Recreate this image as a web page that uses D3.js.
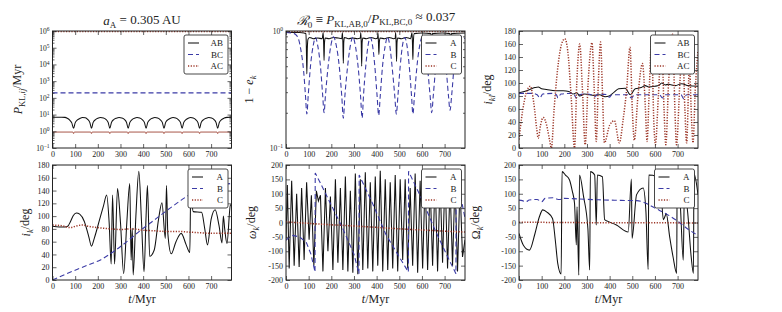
<!DOCTYPE html>
<html><head><meta charset="utf-8">
<script src="https://cdn.jsdelivr.net/npm/d3@7"></script>
<style>
body{margin:0;background:#fff}
svg{display:block}
text{font-family:"Liberation Serif","DejaVu Serif",serif;fill:#222}
</style>
</head><body>
<svg id="c" width="782" height="312"></svg>
<script>
// ---------- shared axes values ----------
const tDomain = [0, 790];
const xTicks = [0, 100, 200, 300, 400, 500, 600, 700];
const degTicks = [0, 20, 40, 60, 80, 100, 120, 140, 160, 180];
const angTicks = [-200, -150, -100, -50, 0, 50, 100, 150, 200];
const logTicksP = [1e-1, 1e0, 1e1, 1e2, 1e3, 1e4, 1e5, 1e6];
const logTicksE = [1e-1, 1e0];

// ---------- panel 1: P_KL,ij / Myr ----------
const pklAB = [[0,7],[40,7],[55,6.8],[65,6],[75,4.8],[85,3.2],[93,1.5],
[100,3.2],[110,4.8],[122,6],[132,6.6],[145,6.4],[155,5.2],[165,3.3],[172,1.5],
[179,3.3],[190,5],[200,6],[212,6.6],[225,6.3],[237,5],[246,3.3],[253,1.5],
[260,3.3],[270,5],[282,6.1],[294,6.6],[306,6.2],[318,5],[327,3.3],[334,1.5],
[341,3.3],[351,5],[362,6.1],[373,6.6],[385,6.2],[396,5],[406,3.3],[413,1.5],
[420,3.3],[430,5],[441,6.1],[452,6.6],[464,6.2],[475,5],[485,3.3],[492,1.5],
[499,3.3],[510,5],[521,6.1],[532,6.6],[544,6.2],[555,5],[565,3.3],[572,1.5],
[579,3.3],[589,5],[599,6.1],[610,6.6],[621,6.2],[632,5],[642,3.3],[649,1.5],
[656,3.3],[667,5],[679,6.1],[690,6.6],[702,6.2],[713,5],[722,3.3],[729,1.5],
[736,3.3],[746,5],[758,6.2],[770,6.8],[790,7]];
const pklBC = [[0,200],[790,200]];
const pklACtop = [[0,9.2e5],[790,9.2e5]];
const pklAClow = [[0,0.9],[90,0.9],[93,0.72],[96,0.9],[169,0.9],[172,0.72],[175,0.9],
[250,0.9],[253,0.72],[256,0.9],[331,0.9],[334,0.72],[337,0.9],[410,0.9],[413,0.72],[416,0.9],
[489,0.9],[492,0.72],[495,0.9],[569,0.9],[572,0.72],[575,0.9],[646,0.9],[649,0.72],[652,0.9],
[726,0.9],[729,0.72],[732,0.9],[790,0.9]];

// ---------- panel 2: 1 - e_k ----------
const eA = [[0,0.97],[60,0.97],[80,0.96],[88,0.95],[90,0.7],[92,0.43],[94,0.7],[97,0.85],[105,0.88],[120,0.86],[140,0.87],[160,0.86],
[164,0.97],[166,0.8],[168,0.56],[170,0.8],[173,0.87],[190,0.86],[210,0.88],[230,0.87],[246,0.86],
[249,0.97],[251,0.8],[253,0.53],[255,0.8],[258,0.88],[275,0.86],[295,0.87],[315,0.86],[328,0.87],
[330,0.97],[332,0.8],[334,0.5],[336,0.8],[339,0.87],[355,0.86],[375,0.88],[395,0.86],[404,0.87],
[406,0.96],[408,0.8],[410,0.63],[412,0.8],[415,0.87],[435,0.86],[455,0.88],[475,0.86],[482,0.87],
[484,0.97],[486,0.8],[488,0.55],[490,0.8],[493,0.87],[510,0.86],[530,0.88],[550,0.86],
[556,0.97],[558,0.8],[560,0.57],[562,0.8],[566,0.95],[600,0.96],[640,0.95],[643,0.7],[646,0.95],[690,0.96],[724,0.95],[727,0.75],[730,0.95],[790,0.96]];
const eB = [[0,0.97],[30,0.96],[50,0.9],[65,0.7],[78,0.45],[86,0.28],[92,0.195],[98,0.28],[108,0.5],[120,0.75],[130,0.88],
[140,0.75],[152,0.5],[162,0.28],[168,0.2],[174,0.28],[186,0.5],[198,0.75],[210,0.89],[222,0.75],[235,0.5],[246,0.28],
[253,0.18],[260,0.28],[272,0.5],[284,0.75],[295,0.89],[306,0.75],[318,0.5],[329,0.28],[336,0.18],[342,0.28],[352,0.5],
[362,0.75],[372,0.88],[382,0.75],[392,0.5],[402,0.28],[409,0.19],[416,0.28],[426,0.5],[438,0.75],[448,0.89],[458,0.75],
[468,0.5],[480,0.28],[487,0.195],[494,0.28],[504,0.5],[514,0.75],[524,0.88],[534,0.75],[544,0.5],[554,0.28],[560,0.195],
[567,0.28],[578,0.5],[590,0.75],[601,0.89],[612,0.75],[624,0.5],[636,0.28],[643,0.2],[650,0.28],[661,0.5],[672,0.75],
[683,0.89],[694,0.75],[706,0.5],[717,0.28],[724,0.21],[731,0.28],[742,0.5],[754,0.75],[766,0.88],[778,0.9],[790,0.86]];
const eC = [[0,0.99],[790,0.99]];

// ---------- panel 3: i_kl / deg ----------
const iklAB = [[0,85],[40,89],[70,93],[85,94],[100,91],[121,90],[160,88],[195,88],[220,87],[238,83],[255,85],[268,80],
[290,83],[311,82],[330,81],[355,82],[380,79],[398,80],[420,86],[440,91],[469,92],[491,82],[513,91],[540,93],[557,96],
[572,94],[600,95],[616,96],[630,100],[645,97],[659,98],[690,96],[718,99],[747,96],[790,95]];
const iklBC = [[0,84],[60,84],[80,82],[92,77],[105,83],[150,84],[165,82],[172,77],[185,83],[240,84],[253,77],[265,82],
[300,83],[320,82],[334,79],[350,83],[390,82],[399,78],[410,82],[480,82],[496,77],[510,82],[620,82],[633,77],[645,82],
[715,82],[727,76],[740,82],[790,82]];
const iklAC = [[0,13],[15,55],[35,88],[50,95],[65,70],[78,30],[85,15],[95,35],[107,47],[122,35],[135,12],[143,0],
[155,60],[170,120],[188,160],[202,168],[215,150],[230,80],[245,0],[255,100],[268,160],[280,90],[292,5],[305,100],
[322,162],[332,90],[341,10],[350,100],[360,163],[368,90],[377,8],[400,35],[421,42],[443,8],[460,45],[475,90],[490,155],
[500,60],[509,12],[525,80],[545,130],[558,60],[565,10],[575,90],[585,165],[595,40],[602,5],[615,80],[630,165],[640,60],
[648,5],[660,100],[678,175],[688,60],[695,5],[710,100],[722,160],[732,60],[740,8],[752,125],[762,40],[768,8],[778,90],[790,150]];

// ---------- panel 4: i_k / deg ----------
const ikA = [[0,84],[30,83],[55,83],[67,84],[80,92],[92,101],[105,105],[120,103],[140,92],[160,68],[172,53],[185,66],
[209,96],[225,116],[239,133],[250,90],[259,25],[265,133],[274,25],[287,143],[300,90],[314,10],[328,90],[341,151],
[347,31],[352,81],[356,8],[368,100],[381,170],[393,90],[404,13],[413,100],[419,148],[429,37],[449,47],[468,95],
[483,121],[498,65],[503,148],[509,73],[524,41],[545,60],[568,73],[590,55],[606,43],[610,136],[621,107],[658,106],
[672,80],[684,55],[700,95],[718,110],[735,85],[748,58],[754,100],[760,80],[770,57],[785,117],[790,118]];
const ikB = [[0,0],[50,8],[105,16],[160,24],[209,31],[255,41],[299,52],[345,65],[389,78],[435,90],[479,102],[525,114],
[568,125],[612,135],[658,143],[720,148],[790,151]];
const ikC = [[0,86],[40,85],[80,82],[100,84],[130,86],[160,84],[200,82],[260,80],[300,79],[350,80],[400,78],[450,77],
[500,76],[560,76],[600,75],[650,74],[700,73],[790,73]];

// ---------- panel 5: omega_k / deg ----------
const wA = [[0,-60],[6,130],[14,-160],[25,145],[36,-150],[47,100],[58,-155],[69,120],[80,-130],[91,140],[102,-60],
[112,95],[123,-150],[134,110],[143,75],[152,95],[163,-170],[174,120],[185,-100],[196,90],[207,-165],[218,150],
[229,-140],[240,120],[251,-165],[262,160],[273,-170],[284,110],[295,-175],[306,170],[317,-180],[328,150],[339,-165],
[350,175],[361,-160],[372,140],[383,-170],[394,160],[405,-150],[416,180],[427,-170],[438,150],[449,-165],[460,140],
[471,-160],[482,165],[493,-170],[504,150],[515,-130],[526,150],[537,-160],[548,120],[559,-150],[570,170],[581,-175],
[592,145],[603,-160],[614,150],[625,-165],[636,140],[647,-150],[658,160],[669,-170],[680,150],[691,-140],[702,170],
[713,-160],[724,130],[735,-150],[746,145],[757,-170],[768,130],[779,-120],[790,-60]];
const wB = [[0,-62],[15,-50],[30,-45],[60,-50],[90,-70],[110,-110],[128,-172],[129,172],[150,140],[200,60],[250,-20],
[300,-110],[322,-178],[323,165],[380,70],[440,-40],[500,-120],[540,-172],[541,178],[600,80],[660,-30],[720,-130],
[750,-178],[751,170],[790,15]];
const wC = [[0,2],[100,-3],[200,-8],[300,-12],[400,-17],[500,-22],[600,-26],[700,-30],[790,-33]];

// ---------- panel 6: Omega_k / deg ----------
const OA = [[0,-38],[20,-80],[46,-96],[70,-40],[90,20],[105,44],[125,35],[148,14],[160,-60],[171,-142],[186,-179],
[190,177],[205,165],[223,148],[235,110],[245,67],[253,-78],[256,55],[264,-183],[267,165],[285,90],[304,-21],[312,-165],
[315,177],[334,165],[341,-9],[346,165],[368,159],[378,10],[393,4],[430,-9],[482,-33],[496,151],[499,-55],[519,97],
[548,120],[560,40],[570,-163],[573,165],[607,160],[625,130],[637,10],[650,30],[665,-50],[680,-120],[696,-177],
[698,160],[712,60],[725,-131],[730,120],[745,30],[760,-120],[770,-177],[772,170],[790,97]];
const OB = [[0,78],[15,76],[30,72],[45,78],[80,80],[100,72],[115,84],[150,86],[165,82],[180,80],[200,84],[260,82],
[350,79],[450,77],[520,76],[560,67],[600,50],[650,30],[696,7],[740,-20],[790,-45]];
const OC = [[0,1],[200,0],[400,-1],[600,-1],[790,-2]];

// ---------- styles ----------
const ST = {
  solid: {stroke:"#111", w:1.05, dash:null},
  dash:  {stroke:"#3b3ba6", w:1.1, dash:"5,3"},
  dot:   {stroke:"#9c3526", w:1.5, dash:"1.2,1.5"},
  thin:  {stroke:"#a8574a", w:1.0, dash:null}
};
const FONT = '"Liberation Serif","DejaVu Serif",serif';

const svg = d3.select("#c");
const cols = [52.5, 286, 519];
const W = 179;
const rows = [{y0:31,h:117},{y0:165,h:115}];

// rich text: parts = [[str, flags]] flags: i=italic, s=subscript
function rich(t, parts, subSize){
  let shifted = false;
  parts.forEach(([s, f])=>{
    f = f||"";
    const sp = t.append("tspan").text(s);
    if(f.includes("i")) sp.attr("font-style","italic");
    const wantSub = f.includes("s");
    if(wantSub){ sp.attr("font-size", subSize); if(!shifted){ sp.attr("dy","0.3em"); shifted=true; } }
    else if(shifted){ sp.attr("dy","-0.3em"); shifted=false; }
  });
}

let clipId = 0;
function panel(p){
  const x0 = cols[p.col], y0 = rows[p.row].y0, h = rows[p.row].h;
  const x = d3.scaleLinear().domain(tDomain).range([x0, x0+W]);
  const y = (p.log ? d3.scaleLog() : d3.scaleLinear()).domain(p.yDomain).range([y0+h, y0]);
  const g = svg.append("g");
  const id = "clip"+(clipId++);
  svg.append("clipPath").attr("id", id).append("rect").attr("x",x0).attr("y",y0).attr("width",W).attr("height",h);
  const lg = g.append("g").attr("clip-path","url(#"+id+")");
  p.series.forEach(s=>{
    const st = ST[s.style];
    const line = d3.line().x(d=>x(d[0])).y(d=>y(d[1])).curve(s.curve||d3.curveMonotoneX);
    lg.append("path").attr("d", line(s.data)).attr("fill","none")
      .attr("stroke", st.stroke).attr("stroke-width", s.w||st.w)
      .attr("stroke-dasharray", st.dash);
  });
  const fs = "8px";
  const ax = g.append("g").attr("transform",`translate(0,${y0+h})`)
    .call(d3.axisBottom(x).tickValues(xTicks).tickSize(-4).tickPadding(3));
  ax.selectAll("text").attr("font-size",fs);
  g.append("g").attr("transform",`translate(0,${y0})`).call(d3.axisTop(x).tickValues(xTicks).tickSize(-4).tickFormat(""));
  const ay = g.append("g").attr("transform",`translate(${x0},0)`)
    .call(d3.axisLeft(y).tickValues(p.yTicks).tickSize(-4).tickPadding(3).tickFormat(p.log? ()=>"" : d=>d));
  ay.selectAll("text").attr("font-size",fs);
  g.append("g").attr("transform",`translate(${x0+W},0)`).call(d3.axisRight(y).tickValues(p.yTicks).tickSize(-4).tickFormat(""));
  if(p.log){
    ay.selectAll(".tick text").each(function(d){
      const e = Math.round(Math.log10(d));
      const t = d3.select(this).text("10").attr("font-size","7.5px");
      t.append("tspan").attr("dy","-0.5em").attr("font-size","5.5px").text(e<0? "\u2212"+(-e) : e);
    });
    const minor = [];
    for(let e=Math.round(Math.log10(p.yDomain[0])); e<Math.round(Math.log10(p.yDomain[1])); e++)
      for(let m=2;m<10;m++) minor.push(m*Math.pow(10,e));
    g.append("g").attr("transform",`translate(${x0},0)`).call(d3.axisLeft(y).tickValues(minor).tickSize(-2).tickFormat(""));
    g.append("g").attr("transform",`translate(${x0+W},0)`).call(d3.axisRight(y).tickValues(minor).tickSize(-2).tickFormat(""));
  }
  g.selectAll("g").attr("font-family",null);
  g.selectAll(".domain").remove();
  g.selectAll(".tick line").attr("stroke","#222").attr("stroke-width",0.7);
  g.selectAll(".tick text").attr("fill","#222").style("font-family",FONT);
  g.append("rect").attr("x",x0).attr("y",y0).attr("width",W).attr("height",h)
    .attr("fill","none").attr("stroke","#222").attr("stroke-width",1);
  // legend
  const lw = p.legW, lx = x0+W-lw-3.5, ly = y0+4;
  const L = g.append("g");
  L.append("rect").attr("x",lx).attr("y",ly).attr("width",lw).attr("height",39).attr("rx",2)
    .attr("fill","#fff").attr("stroke","#333").attr("stroke-width",0.9);
  p.series.filter(s=>s.label).forEach((s,i)=>{
    const st = ST[s.style], yy = ly+8+i*11.5;
    L.append("line").attr("x1",lx+4).attr("x2",lx+15).attr("y1",yy).attr("y2",yy)
      .attr("stroke",st.stroke).attr("stroke-width",st.w).attr("stroke-dasharray",st.dash);
    L.append("text").attr("x",lx+lw-5).attr("y",yy+3).attr("text-anchor","end").attr("font-size","9px").text(s.label);
  });
  const yl = svg.append("text").attr("transform",`translate(${p.ylx},${y0+h/2}) rotate(-90)`)
    .attr("text-anchor","middle").attr("font-size","12px");
  rich(yl, p.ylabel, "8.5px");
  if(p.row===1){
    const xl = svg.append("text").attr("x",x0+W/2).attr("y",303).attr("text-anchor","middle").attr("font-size","12px");
    rich(xl, [["t","i"],["/Myr"]], "8px");
  }
}

panel({col:0,row:0,log:true,yDomain:[0.1,1e6],yTicks:logTicksP,legW:44,ylx:22,
  series:[{data:pklAB,style:"solid",label:"AB"},{data:pklBC,style:"dash",label:"BC"},{data:pklACtop,style:"dot",label:"AC"},
          {data:pklAClow,style:"thin"}],
  ylabel:[["P","i"],["KL,","s"],["ij","si"],["/Myr"]]});
panel({col:1,row:0,log:true,yDomain:[0.1,1],yTicks:logTicksE,legW:40,ylx:253,
  series:[{data:eA,style:"solid",label:"A"},{data:eB,style:"dash",label:"B"},{data:eC,style:"dot",label:"C"}],
  ylabel:[["1 \u2212 "],["e","i"],["k","si"]]});
panel({col:2,row:0,log:false,yDomain:[0,180],yTicks:degTicks,legW:44,ylx:492,
  series:[{data:iklAB,style:"solid",label:"AB"},{data:iklBC,style:"dash",label:"BC"},{data:iklAC,style:"dot",label:"AC"}],
  ylabel:[["i","i"],["kl","si"],["/deg"]]});
panel({col:0,row:1,log:false,yDomain:[0,180],yTicks:degTicks,legW:40,ylx:30,
  series:[{data:ikA,style:"solid",label:"A"},{data:ikB,style:"dash",label:"B"},{data:ikC,style:"dot",label:"C"}],
  ylabel:[["i","i"],["k","si"],["/deg"]]});
panel({col:1,row:1,log:false,yDomain:[-200,200],yTicks:angTicks,legW:40,ylx:256,
  series:[{data:wA,style:"solid",label:"A",curve:d3.curveLinear},{data:wB,style:"dash",label:"B",curve:d3.curveLinear},{data:wC,style:"dot",label:"C"}],
  ylabel:[["\u03C9","i"],["k","si"],["/deg"]]});
panel({col:2,row:1,log:false,yDomain:[-200,200],yTicks:angTicks,legW:40,ylx:480,
  series:[{data:OA,style:"solid",label:"A"},{data:OB,style:"dash",label:"B"},{data:OC,style:"dot",label:"C"}],
  ylabel:[["\u03A9"],["k","si"],["/deg"]]});

// titles
const t1 = svg.append("text").attr("x",142).attr("y",25).attr("text-anchor","middle").attr("font-size","13px");
rich(t1, [["a","i"],["A","s"],[" = 0.305 AU"]], "9px");
const t2 = svg.append("text").attr("x",376).attr("y",25).attr("text-anchor","middle").attr("font-size","13px");
rich(t2, [["\u211B","i"],["0","s"],[" \u2261 "],["P","i"],["KL,AB,0","s"],["/"],["P","i"],["KL,BC,0","s"],[" \u2248 0.037"]], "9px");
</script>
</body></html>
